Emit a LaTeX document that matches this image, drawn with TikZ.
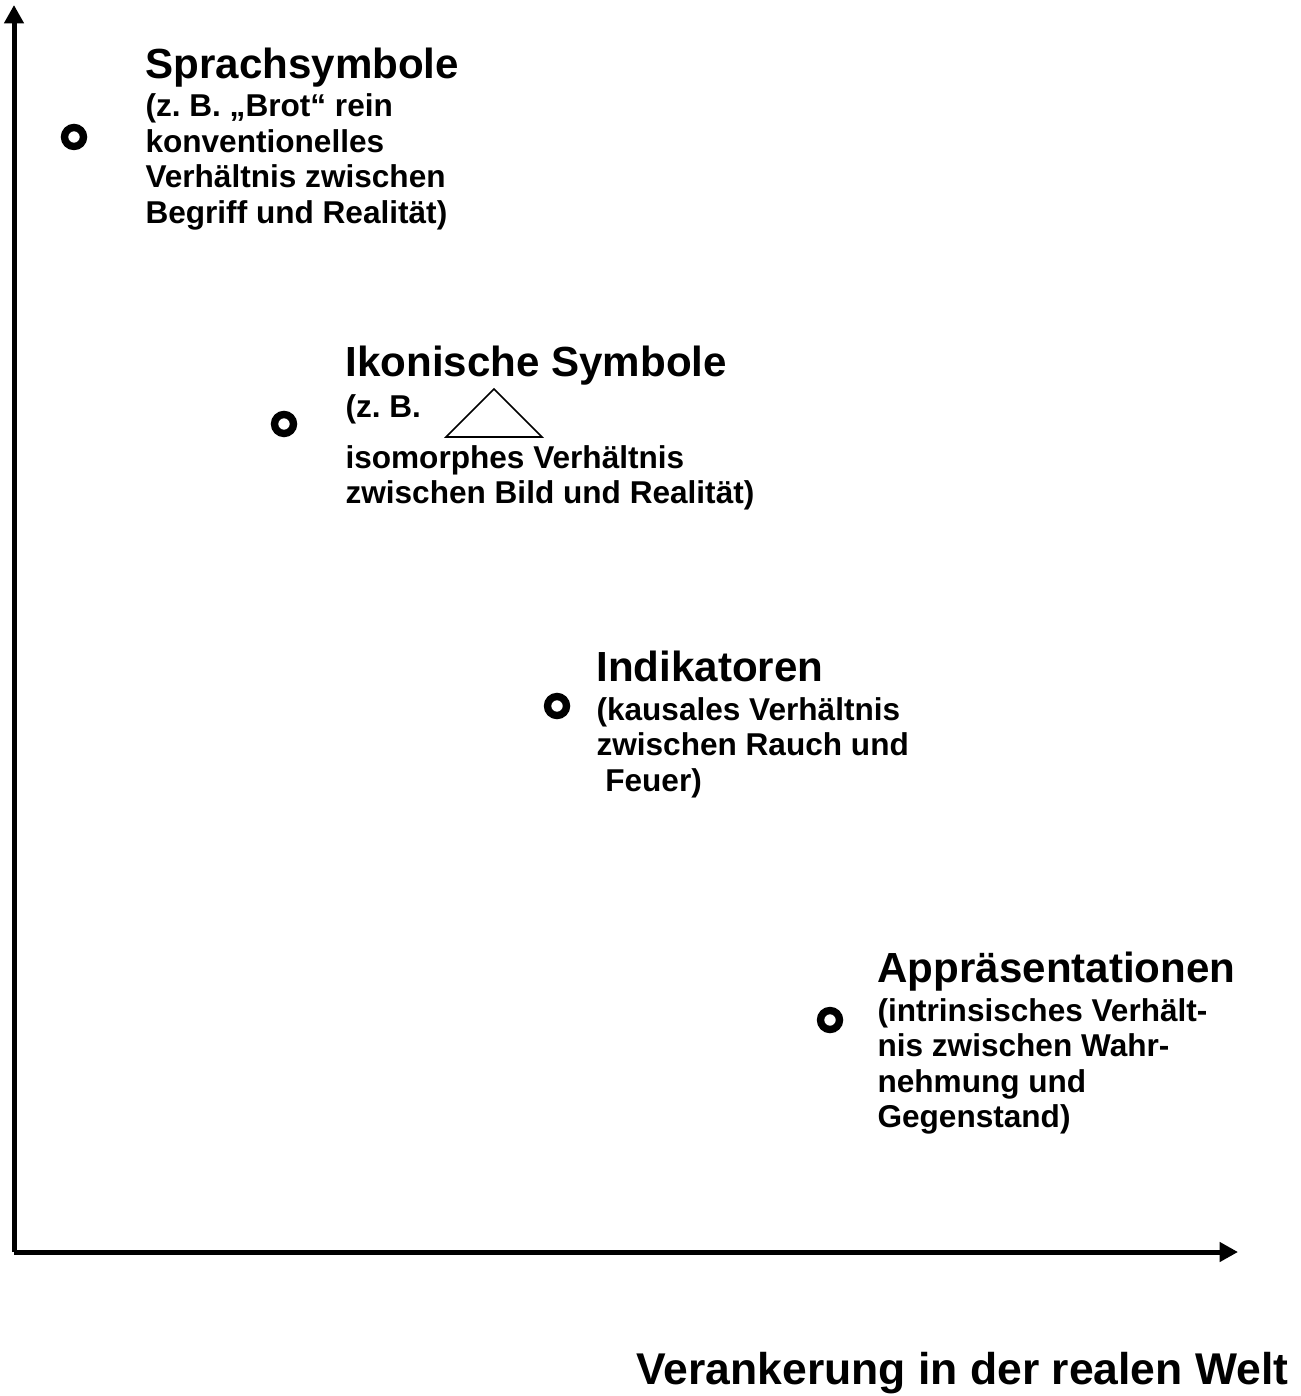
\documentclass[tikz,border=0pt]{standalone}
\usepackage{fontspec}
\setmainfont{Liberation Sans}
\usetikzlibrary{arrows.meta}
\tikzset{
  axis/.style={line width=1.9pt,-{Triangle[length=7pt,width=7.2pt]}},
  ring/.style={line width=2.8pt},
  title/.style={anchor=base west,inner sep=0pt,font=\fontsize{16}{18.4}\selectfont\bfseries},
  body/.style={anchor=base west,inner sep=0pt,font=\fontsize{12}{13.8}\selectfont\bfseries},
}
\begin{document}
\begin{tikzpicture}[x=0.38pt,y=-0.38pt]
\useasboundingbox (0,0) rectangle (1300,1396);
% axes
\coordinate (O) at (14,1252);
\coordinate (ytip) at (14,5);
\coordinate (xtip) at (1238,1252);
\draw[axis] (O) -- (ytip);
\draw[axis] (O) -- (xtip);
% rings
\draw[ring] (74,137) circle[radius=9.5];
\draw[ring] (284,424) circle[radius=9.5];
\draw[ring] (557,706) circle[radius=9.5];
\draw[ring] (830,1020) circle[radius=9.5];
% block 1
\node[title] (t1) at (145,79) {Sprachsymbole};
\node[body] (b1a) at (145,117) {(z.\ B. „Brot“ rein};
\node[body] (b1b) at (145,152.5) {konventionelles};
\node[body] (b1c) at (145,188) {Verhältnis zwischen};
\node[body] (b1d) at (145,223.5) {Begriff und Realität)};
% block 2
\node[title] (t2) at (345,377) {Ikonische Symbole};
\node[body] (b2a) at (345,418) {(z.\ B.};
\draw[line width=0.6pt,line join=miter] (494,389) -- (542,437) -- (446,437) -- cycle;
\node[body] (b2b) at (345,469) {isomorphes Verhältnis};
\node[body] (b2c) at (345,504) {zwischen Bild und Realität)};
% block 3
\node[title] (t3) at (596,681) {Indikatoren};
\node[body] (b3a) at (596,720) {(kausales Verhältnis};
\node[body] (b3b) at (596,755.5) {zwischen Rauch und};
\node[body] (b3c) at (596,791) {\ Feuer)};
% block 4
\node[title] (t4) at (877,982) {Appräsentationen};
\node[body] (b4a) at (877,1021) {(intrinsisches Verhält-};
\node[body] (b4b) at (877,1056.5) {nis zwischen Wahr-};
\node[body] (b4c) at (877,1092) {nehmung und};
\node[body] (b4d) at (877,1127.5) {Gegenstand)};
% x-axis label
\node[title,font=\fontsize{16.9}{19.4}\selectfont\bfseries] (xl) at (636,1384) {Verankerung in der realen Welt};
\end{tikzpicture}
\end{document}
